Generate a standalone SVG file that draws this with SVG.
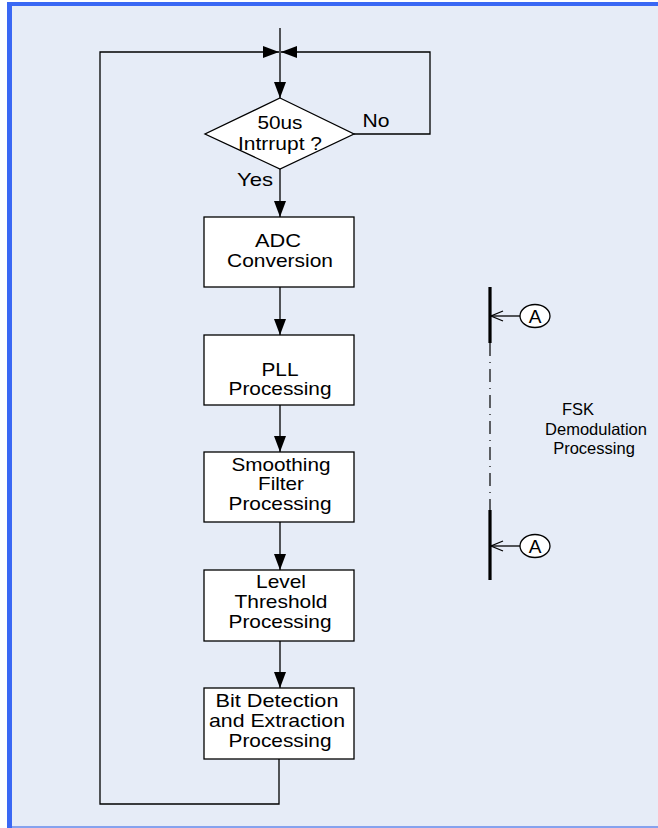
<svg xmlns="http://www.w3.org/2000/svg" width="658" height="828" viewBox="0 0 658 828">
<defs>
<style>
.bx{fill:#fff;stroke:#000;stroke-width:1.3}
.ln{fill:none;stroke:#000;stroke-width:1.3}
.t{font-family:"Liberation Sans",Arial,sans-serif;font-size:19px;fill:#000;text-anchor:middle}
.f{font-family:"Liberation Sans",Arial,sans-serif;font-size:16.5px;fill:#000;text-anchor:middle}
</style>
<marker id="ah" markerUnits="userSpaceOnUse" markerWidth="17" markerHeight="12" refX="16" refY="6" orient="auto">
<path d="M0,0 L16,6 L0,12 z" fill="#000"/>
</marker>
</defs>
<rect x="0" y="0" width="658" height="828" fill="#fff"/>
<rect x="12" y="6" width="646" height="822" fill="#E6ECF7"/>
<rect x="7" y="2" width="651" height="4" fill="#3A68F4"/>
<rect x="7" y="2" width="5" height="826" fill="#3A68F4"/>
<rect x="12" y="826" width="646" height="2" fill="#86A2EE"/>

<g id="connectors">
<line class="ln" x1="280" y1="28" x2="280" y2="98" marker-end="url(#ah)"/>
<polyline class="ln" points="279,759 279,804 100,804 100,52 279,52" marker-end="url(#ah)"/>
<polyline class="ln" points="354,134 430,134 430,52 281,52" marker-end="url(#ah)"/>
<line class="ln" x1="280" y1="169" x2="280" y2="217" marker-end="url(#ah)"/>
<line class="ln" x1="280" y1="287" x2="280" y2="335" marker-end="url(#ah)"/>
<line class="ln" x1="280" y1="405" x2="280" y2="452" marker-end="url(#ah)"/>
<line class="ln" x1="280" y1="522" x2="280" y2="570" marker-end="url(#ah)"/>
<line class="ln" x1="280" y1="641" x2="280" y2="688" marker-end="url(#ah)"/>
</g>

<g id="decision">
<polygon class="bx" points="280,98 354,134 280,169 205,134"/>
<text class="t" x="280" y="129" textLength="45" lengthAdjust="spacingAndGlyphs">50us</text>
<text class="t" x="280" y="150" textLength="84" lengthAdjust="spacingAndGlyphs">Intrrupt ?</text>
<text class="t" x="376" y="127" textLength="27" lengthAdjust="spacingAndGlyphs">No</text>
<text class="t" x="255" y="186" textLength="36" lengthAdjust="spacingAndGlyphs">Yes</text>
</g>

<g id="adc">
<rect class="bx" x="204" y="217" width="150" height="70"/>
<text class="t" x="278" y="247" textLength="46" lengthAdjust="spacingAndGlyphs">ADC</text>
<text class="t" x="280" y="267" textLength="106" lengthAdjust="spacingAndGlyphs">Conversion</text>
</g>

<g id="pll">
<rect class="bx" x="204" y="335" width="150" height="70"/>
<text class="t" x="280" y="376" textLength="37" lengthAdjust="spacingAndGlyphs">PLL</text>
<text class="t" x="280" y="395" textLength="103" lengthAdjust="spacingAndGlyphs">Processing</text>
</g>

<g id="smoothing">
<rect class="bx" x="204" y="452" width="150" height="70"/>
<text class="t" x="281" y="471" textLength="99" lengthAdjust="spacingAndGlyphs">Smoothing</text>
<text class="t" x="281" y="490" textLength="46" lengthAdjust="spacingAndGlyphs">Filter</text>
<text class="t" x="280" y="510" textLength="103" lengthAdjust="spacingAndGlyphs">Processing</text>
</g>

<g id="level">
<rect class="bx" x="204" y="570" width="150" height="71"/>
<text class="t" x="281" y="588" textLength="50" lengthAdjust="spacingAndGlyphs">Level</text>
<text class="t" x="281" y="608" textLength="93" lengthAdjust="spacingAndGlyphs">Threshold</text>
<text class="t" x="280" y="628" textLength="103" lengthAdjust="spacingAndGlyphs">Processing</text>
</g>

<g id="bit">
<rect class="bx" x="204" y="688" width="150" height="71"/>
<text class="t" x="277" y="707" textLength="123" lengthAdjust="spacingAndGlyphs">Bit Detection</text>
<text class="t" x="277" y="727" textLength="136" lengthAdjust="spacingAndGlyphs">and Extraction</text>
<text class="t" x="280" y="747" textLength="103" lengthAdjust="spacingAndGlyphs">Processing</text>
</g>

<g id="fsk">
<line x1="490" y1="287" x2="490" y2="343" stroke="#000" stroke-width="3.2"/>
<line x1="490" y1="343" x2="490" y2="510" stroke="#000" stroke-width="1.2" stroke-dasharray="13 6 1 6"/>
<line x1="490" y1="510" x2="490" y2="580" stroke="#000" stroke-width="3.2"/>
<text class="f" x="578" y="415">FSK</text>
<text class="f" x="596" y="435">Demodulation</text>
<text class="f" x="594" y="454">Processing</text>
</g>

<g id="connA1">
<line class="ln" x1="520" y1="316" x2="491" y2="316"/>
<polyline class="ln" points="503,311 491,316 503,321"/>
<ellipse cx="535" cy="316" rx="15" ry="11.5" fill="#fff" stroke="#000" stroke-width="1.3"/>
<text class="t" x="535" y="323" font-size="20">A</text>
</g>

<g id="connA2">
<line class="ln" x1="520" y1="546" x2="491" y2="546"/>
<polyline class="ln" points="503,541 491,546 503,551"/>
<ellipse cx="535" cy="546" rx="15" ry="11.5" fill="#fff" stroke="#000" stroke-width="1.3"/>
<text class="t" x="535" y="553" font-size="20">A</text>
</g>
</svg>
